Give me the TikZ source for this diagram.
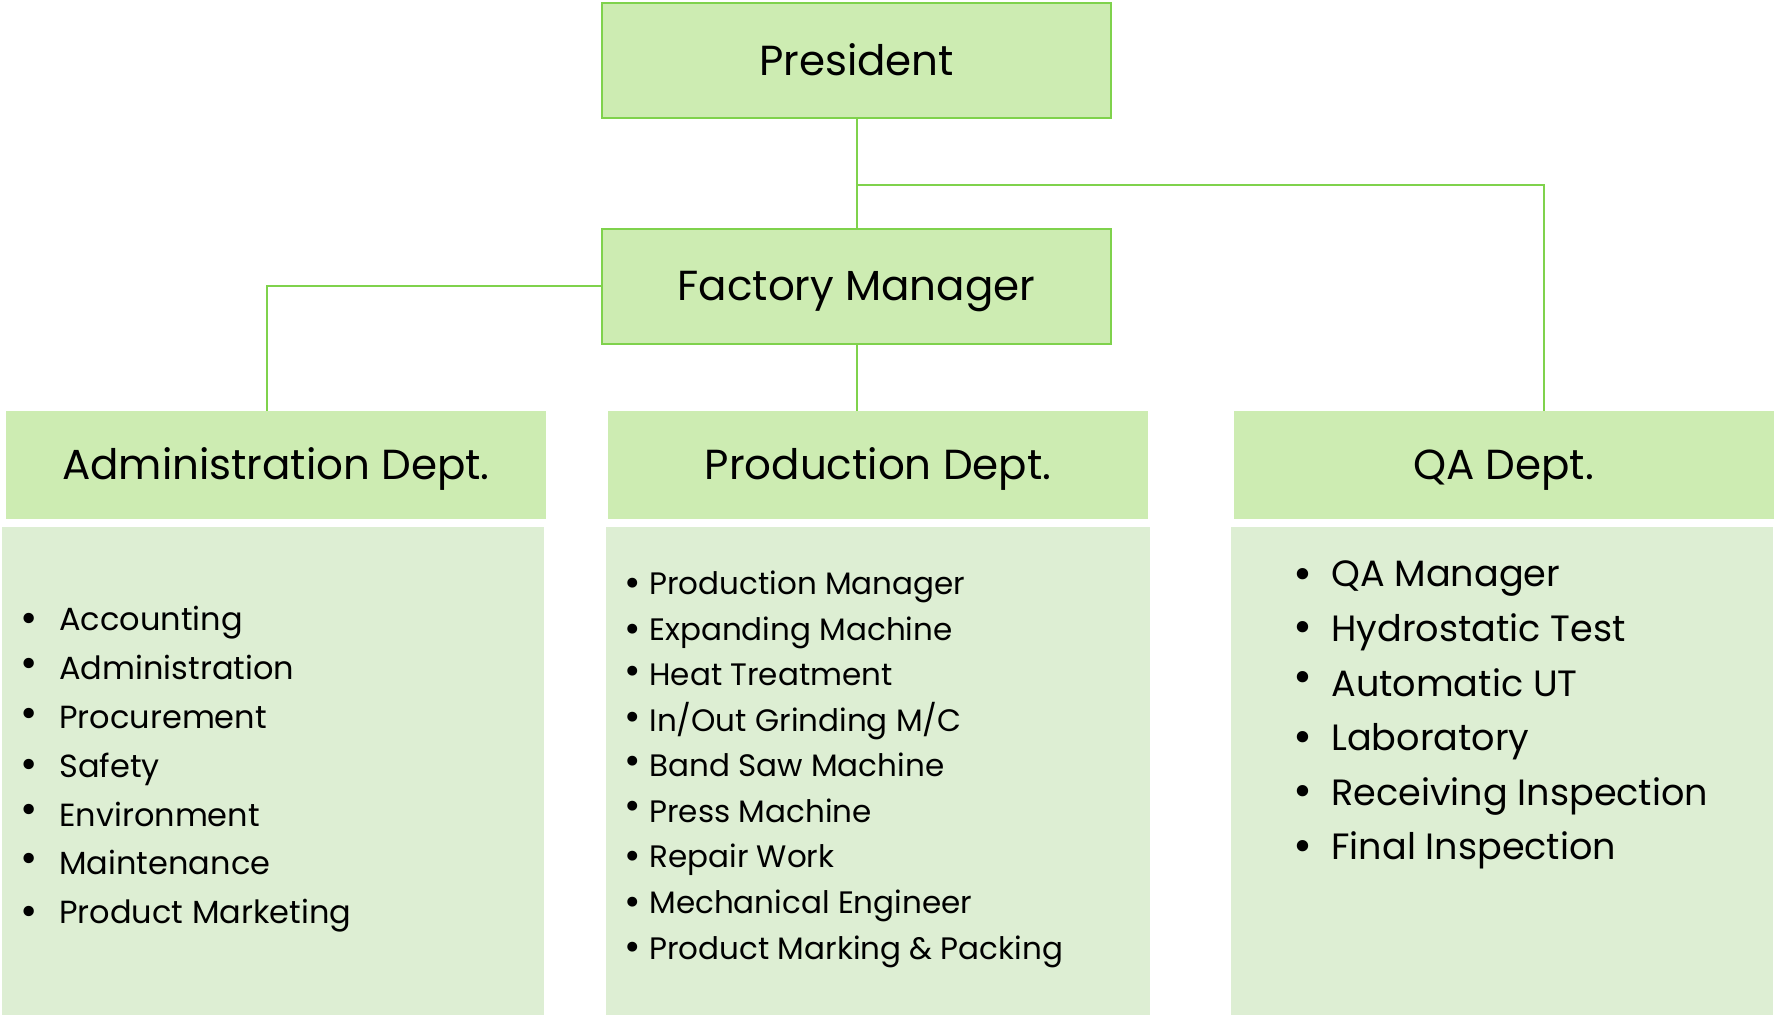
\documentclass[tikz,border=0pt]{standalone}
\usepackage{fontspec}
\setmainfont{Poppins}
\usetikzlibrary{positioning,calc}

\definecolor{boxgreen}{HTML}{CDECB2}
\definecolor{listgreen}{HTML}{DDEED3}
\definecolor{linegreen}{HTML}{7FD24C}

\tikzset{
  topbox/.style={draw=linegreen, line width=1pt, fill=boxgreen, minimum width=254.5pt,
    minimum height=57.5pt, text height=14.5pt, text depth=0pt,
    font=\fontsize{21}{25}\selectfont},
  depthead/.style={fill=boxgreen, minimum width=270pt, minimum height=54pt,
    text height=14.5pt, text depth=0pt, font=\fontsize{21}{25}\selectfont},
  listbox/.style={fill=listgreen, minimum width=271pt, minimum height=244pt,
    anchor=north west, inner sep=0pt},
  entry/.style={anchor=base west, inner sep=0pt},
  link/.style={draw=linegreen, line width=1pt},
}

\begin{document}
\begin{tikzpicture}[x=1pt,y=-1pt]
  \useasboundingbox (0,0) rectangle (887,507.5);

  % top of the chart
  \node[topbox] (pres) at (428.25,30.5) {President};
  \node[topbox] (fm) at (428.25,143.25) {Factory Manager};

  % departments
  \node[depthead] (adm) at (138,232.5) {Administration Dept.};
  \node[depthead] (prod) at (439,232.5) {Production Dept.};
  \node[depthead] (qa) at (751.75,232.5) {QA Dept.};

  \node[listbox] (admlist) at (1,263.5) {};
  \node[listbox, minimum width=272pt] (prodlist) at (303,263.5) {};
  \node[listbox] (qalist) at (615.5,263.5) {};

  % connectors
  \coordinate (split) at ($(pres.south)!0.6!(fm.north)$);
  \draw[link] (pres) -- (fm);
  \draw[link] (split) -| ([xshift=20.25pt]qa.north);
  \draw[link] (fm.west) -| ([xshift=-4.5pt]adm.north);
  \draw[link] (fm) -- (fm |- prod.north);

  % staff lists
  \foreach \entrytext [count=\i] in {Accounting, Administration, Procurement,
      Safety, Environment, Maintenance, Product Marketing}
    \node[entry, font=\fontsize{16}{19}\selectfont,
      label={[font=\fontsize{21}{19}\selectfont, label distance=7pt]left:\textbullet}]
      (adm\i) at (29.5,{315.5+24.4*(\i-1)}) {\entrytext};

  \foreach \entrytext [count=\i] in {Production Manager, Expanding Machine,
      Heat Treatment, {In/Out Grinding M/C}, Band Saw Machine, Press Machine,
      Repair Work, Mechanical Engineer, Product Marking \& Packing}
    \node[entry, font=\fontsize{15.5}{18}\selectfont,
      label={[font=\fontsize{20}{18}\selectfont, label distance=0.5pt]left:\textbullet}]
      (prod\i) at (324.5,{297.5+22.75*(\i-1)}) {\entrytext};

  \foreach \entrytext [count=\i] in {QA Manager, Hydrostatic Test, Automatic UT,
      Laboratory, Receiving Inspection, Final Inspection}
    \node[entry, font=\fontsize{18.3}{22}\selectfont,
      label={[font=\fontsize{23}{22}\selectfont, label distance=5.5pt]left:\textbullet}]
      (qa\i) at (665.5,{293.5+27.3*(\i-1)}) {\entrytext};
\end{tikzpicture}
\end{document}
